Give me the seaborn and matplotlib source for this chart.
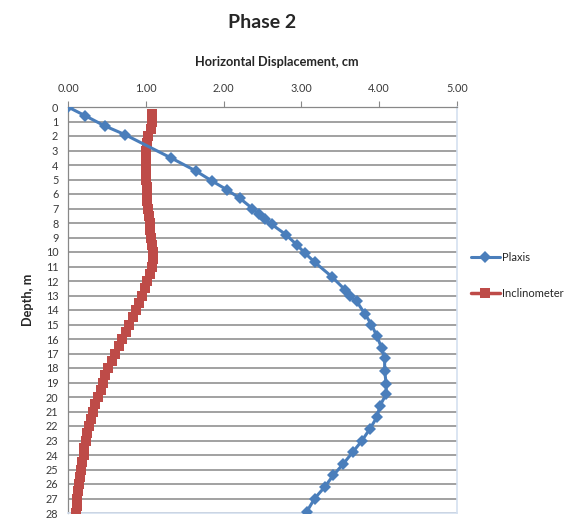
import numpy as np
import pandas as pd
import seaborn as sns
import matplotlib.pyplot as plt
from matplotlib.ticker import FormatStrFormatter, MultipleLocator

# Plaxis results (displacement cm, depth m)
plaxis_disp = [0.00, 0.22, 0.47, 0.73, 1.32, 1.64, 1.85, 2.04, 2.21, 2.37, 2.45, 2.53,
               2.62, 2.80, 2.94, 3.05, 3.17, 3.39, 3.56, 3.62, 3.71, 3.82, 3.90, 3.97,
               4.03, 4.07, 4.07, 4.09, 4.09, 4.01, 3.97, 3.88, 3.78, 3.66, 3.54, 3.41,
               3.30, 3.17, 3.07]
plaxis_depth = [0.0, 0.6, 1.3, 1.9, 3.5, 4.4, 5.1, 5.7, 6.3, 7.0, 7.4, 7.7,
                8.1, 8.8, 9.5, 10.1, 10.7, 11.7, 12.6, 13.0, 13.4, 14.3, 15.0, 15.8,
                16.6, 17.3, 18.2, 19.1, 19.8, 20.6, 21.4, 22.2, 23.0, 23.8, 24.6, 25.4,
                26.2, 27.0, 27.9]

# Inclinometer readings every 0.5 m
incl_depth = [0.5 * i for i in range(1, 57)]
incl_disp = [1.08, 1.08, 1.07, 1.03, 1.01, 1.00, 1.00, 1.00, 1.00, 1.00,
             1.01, 1.01, 1.02, 1.03, 1.04, 1.05, 1.06, 1.07, 1.08, 1.09,
             1.09, 1.08, 1.05, 1.02, 0.99, 0.95, 0.91, 0.87, 0.83, 0.79,
             0.75, 0.70, 0.66, 0.61, 0.56, 0.52, 0.48, 0.45, 0.42, 0.38,
             0.35, 0.32, 0.30, 0.27, 0.25, 0.23, 0.21, 0.20, 0.18, 0.17,
             0.15, 0.14, 0.13, 0.12, 0.11, 0.10]

df_p = pd.DataFrame({'disp': plaxis_disp, 'depth': plaxis_depth})
df_i = pd.DataFrame({'disp': incl_disp, 'depth': incl_depth})

sns.set_style('white')
plt.rcParams['font.family'] = ['Lato', 'DejaVu Sans']

fig = plt.figure(figsize=(5.81, 5.18), dpi=100)
ax = fig.add_axes([68 / 581, 1 - 513 / 518, (457 - 68) / 581, (513 - 107) / 518])

sns.lineplot(data=df_p, x='disp', y='depth', sort=False, estimator=None, ax=ax,
             color='#4A7EBB', lw=2.2, marker='D', markersize=6.5, markeredgewidth=0,
             label='Plaxis', zorder=4)
sns.lineplot(data=df_i, x='disp', y='depth', sort=False, estimator=None, ax=ax,
             color='#BE4B48', lw=2.5, marker='s', markersize=7, markeredgewidth=0,
             label='Inclinometer', zorder=3)

ax.set_xlim(0, 5)
ax.set_ylim(28, 0)
ax.xaxis.tick_top()
ax.xaxis.set_label_position('top')
ax.xaxis.set_major_locator(MultipleLocator(1))
ax.xaxis.set_major_formatter(FormatStrFormatter('%.2f'))
ax.yaxis.set_major_locator(MultipleLocator(1))
ax.grid(axis='y', color='#9a9a9a', lw=1.3)
ax.grid(axis='x', visible=False)
ax.tick_params(axis='both', which='major', labelsize=7.8, colors='#3a3a3a',
               length=4, direction='out', width=0.8)
ax.tick_params(axis='x', pad=5, color='#888888')
ax.tick_params(axis='y', pad=3, color='#888888')

for s in ['left', 'top']:
    ax.spines[s].set_color('#888888')
    ax.spines[s].set_linewidth(0.9)
for s in ['right', 'bottom']:
    ax.spines[s].set_color('#d4e0f0')
    ax.spines[s].set_linewidth(1.2)

ax.set_xlabel('Horizontal Displacement, cm', fontsize=9.2, fontweight='bold')
ax.xaxis.set_label_coords(0.538, 1 + (107 - 62) / 406, transform=ax.transAxes)
ax.xaxis.label.set_va('center')
ax.set_ylabel('Depth, m', fontsize=9.2, fontweight='bold')
ax.yaxis.set_label_coords(-(68 - 28) / 389, 1 - (300 - 107) / 406)
ax.yaxis.label.set_va('center')
fig.text(262 / 581, 1 - 22 / 518, 'Phase 2', fontsize=14, fontweight='bold',
         ha='center', va='center')

ax.legend(loc='center left', bbox_to_anchor=(1.01, 0.585), frameon=False, fontsize=8,
          labelspacing=2.3, handlelength=2.6, handletextpad=0.2)

fig.savefig('out.png', dpi=100)
